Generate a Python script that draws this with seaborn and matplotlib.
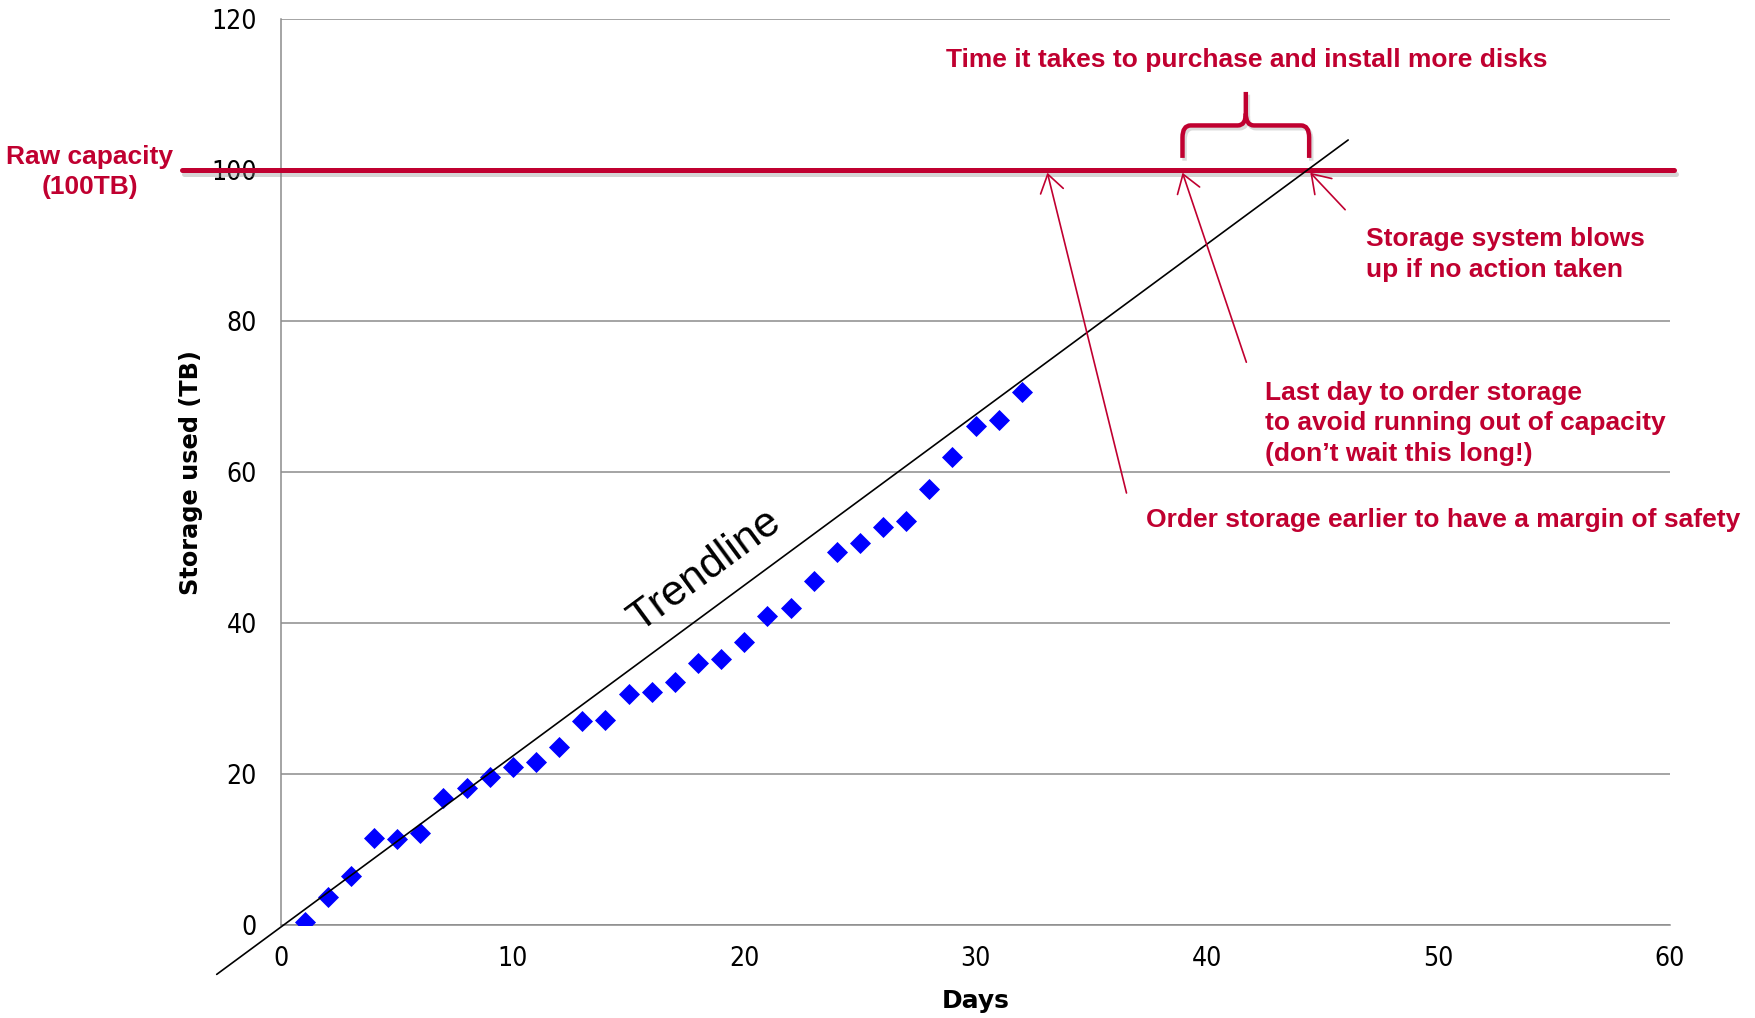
import math

import matplotlib
matplotlib.use("Agg")
import matplotlib.pyplot as plt
import matplotlib.patheffects as pe
from matplotlib.path import Path
from matplotlib.patches import PathPatch
import pandas as pd
import seaborn as sns

# ---- data -------------------------------------------------------------
days = list(range(1, 33))
storage_tb = [0.5, 3.8, 6.5, 11.6, 11.5, 12.2, 16.9, 18.2, 19.7, 21.0,
              21.7, 23.6, 27.1, 27.2, 30.6, 30.9, 32.3, 34.7, 35.3, 37.5,
              41.0, 42.0, 45.6, 49.5, 50.7, 52.8, 53.6, 57.8, 62.1, 66.1,
              66.9, 70.7]
x_ticks = [0, 10, 20, 30, 40, 50, 60]
y_ticks = [0, 20, 40, 60, 80, 100, 120]
raw_capacity_tb = 100
trend_slope = 2.26
trend_intercept = -0.15
trend_span = [-2.8, 46.1]
last_order_day = 38.94
safe_order_day = 33.1

RED = "#C00030"
BLUE = "#0000FF"
GRID = "#8C8C8C"

sns.set_theme(style="white")
plt.rcParams["font.family"] = ["DejaVu Sans"]
plt.rcParams["text.color"] = "black"
plt.rcParams["axes.labelcolor"] = "black"
NOTE_FONT = ["Liberation Sans", "DejaVu Sans"]

fig = plt.figure(figsize=(17.56, 10.18), dpi=100)
ax = fig.add_axes([0.1603, 0.0909, 0.7906, 0.8900])

# measured usage
df = pd.DataFrame({"day": days, "tb": storage_tb})
sns.scatterplot(data=df, x="day", y="tb", marker="D", s=115, color=BLUE,
                linewidth=0, ax=ax, zorder=4)

# straight-line trend
trend = pd.DataFrame({"day": trend_span,
                      "tb": [trend_slope * d + trend_intercept for d in trend_span]})
sns.lineplot(data=trend, x="day", y="tb", color="black", lw=1.2, ax=ax,
             clip_on=False, zorder=5)

ax.set_xlim(x_ticks[0], x_ticks[-1])
ax.set_ylim(y_ticks[0], y_ticks[-1])
ax.set_xticks(x_ticks)
ax.set_yticks(y_ticks)

# raw capacity limit
cap = ax.axhline(raw_capacity_tb, xmin=-0.0717, xmax=1.003, color=RED, lw=3.6,
                 clip_on=False, zorder=3)
cap.set_path_effects([pe.SimpleLineShadow(offset=(1.5, -2.5), shadow_color="#888888", alpha=0.35),
                      pe.Normal()])

# axes styling
ax.yaxis.grid(True, color=GRID, lw=1.1)
ax.xaxis.grid(False)
for side in ("top", "right"):
    ax.spines[side].set_visible(False)
for side in ("left", "bottom"):
    ax.spines[side].set_color(GRID)
    ax.spines[side].set_linewidth(1.1)
ax.tick_params(axis="both", which="major", direction="out", length=5.8, width=1.1,
               color=GRID, labelsize=19, labelcolor="black")
ax.tick_params(axis="y", pad=12)
ax.tick_params(axis="x", pad=9)
for lab in ax.get_xticklabels() + ax.get_yticklabels():
    lab.set_fontstretch("condensed")
ax.set_facecolor("white")

ax.set_xlabel("Days", fontsize=18, fontweight="bold", va="center", color="black")
ax.set_ylabel("Storage used (TB)", fontsize=17.3, fontweight="bold", va="center", color="black")
ax.xaxis.set_label_coords(0.5, -0.0833)
ax.yaxis.set_label_coords(-0.0650, 0.5)

# trend label, rotated to follow the line
p0 = ax.transData.transform((0, trend_intercept))
p1 = ax.transData.transform((40, trend_slope * 40 + trend_intercept))
angle = math.degrees(math.atan2(p1[1] - p0[1], p1[0] - p0[0]))
ax.text(18.3, 47.0, "Trendline", rotation=angle, rotation_mode="anchor",
        ha="center", va="center", fontsize=31, family=NOTE_FONT, color="black")

# annotations
note = dict(color=RED, fontsize=19, fontweight="bold", family=NOTE_FONT)
ax.text(-8.29, raw_capacity_tb - 0.2, "Raw capacity\n(100TB)", ha="center", va="center",
        multialignment="center", linespacing=1.35, **note)
ax.text(41.7, 114.6, "Time it takes to purchase and install more disks",
        ha="center", va="center", **note)
ax.text(46.85, 88.9, "Storage system blows\nup if no action taken",
        ha="left", va="center", linespacing=1.35, **note)
ax.text(42.5, 66.5, "Last day to order storage\nto avoid running out of capacity\n(don\u2019t wait this long!)",
        ha="left", va="center", linespacing=1.35, **note)
ax.text(37.35, 53.7, "Order storage earlier to have a margin of safety",
        ha="left", va="center", **note)

crossing_day = (raw_capacity_tb - trend_intercept) / trend_slope
arrow = dict(arrowstyle="->,head_length=0.42,head_width=0.28", color=RED, lw=1.2,
             shrinkA=0, shrinkB=0, mutation_scale=30)
tip_y = raw_capacity_tb - 0.3
ax.annotate("", xy=(safe_order_day, tip_y), xytext=(36.52, 57.28), arrowprops=arrow, zorder=6)
ax.annotate("", xy=(last_order_day, tip_y), xytext=(41.7, 74.6), arrowprops=arrow, zorder=6)
ax.annotate("", xy=(crossing_day + 0.15, tip_y), xytext=(45.97, 94.8), arrowprops=arrow, zorder=6)

# curly brace spanning the purchase lead time
L, R = last_order_day, crossing_day + 0.1
M = (L + R) / 2
yb, yh, yt = 101.66, 105.96, 110.4
rx, ry = 0.35, 1.6
verts = [(L, yb), (L, yh - ry), (L, yh), (L + rx, yh), (M - rx, yh), (M, yh), (M, yh + ry), (M, yt),
         (R, yb), (R, yh - ry), (R, yh), (R - rx, yh), (M + rx, yh), (M, yh), (M, yh + ry)]
codes = [Path.MOVETO, Path.LINETO, Path.CURVE3, Path.CURVE3, Path.LINETO, Path.CURVE3, Path.CURVE3, Path.LINETO,
         Path.MOVETO, Path.LINETO, Path.CURVE3, Path.CURVE3, Path.LINETO, Path.CURVE3, Path.CURVE3]
brace = PathPatch(Path(verts, codes), fill=False, edgecolor=RED, lw=3.2,
                  capstyle="butt", joinstyle="round", zorder=6)
brace.set_path_effects([pe.SimpleLineShadow(offset=(1.5, -2), shadow_color="#888888", alpha=0.3),
                        pe.Normal()])
ax.add_patch(brace)

fig.savefig("out.png", dpi=100, facecolor="white")
